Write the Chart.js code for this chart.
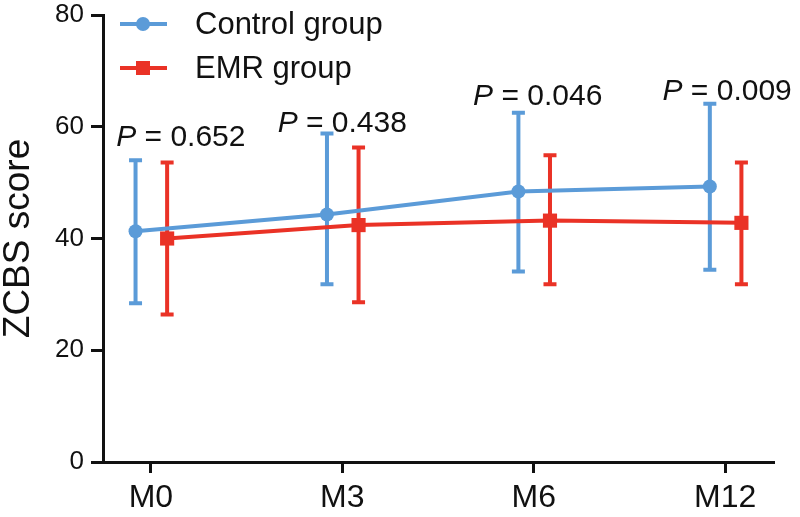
<!DOCTYPE html>
<html>
<head>
<meta charset="utf-8">
<script src="https://cdn.jsdelivr.net/npm/chart.js@4/dist/chart.umd.min.js"></script>
<style>
  html, body { margin: 0; padding: 0; background: #fff; }
  #wrap { width: 800px; height: 517px; position: relative; }
</style>
</head>
<body>
<div id="wrap"><canvas id="c" width="800" height="517"></canvas></div>
<script>
// ---- data ----
const categories = ['M0', 'M3', 'M6', 'M12'];
const seriesNames = ['Control group', 'EMR group'];
const controlMean  = [41.3, 44.3, 48.4, 49.3];
const controlUpper = [54.0, 58.8, 62.5, 64.1];
const controlLower = [28.4, 31.8, 34.1, 34.4];
const emrMean  = [40.0, 42.4, 43.2, 42.8];
const emrUpper = [53.6, 56.3, 54.9, 53.6];
const emrLower = [26.4, 28.6, 31.8, 31.8];
const pValues = ['0.652', '0.438', '0.046', '0.009'];
const yTicks = [0, 20, 40, 60, 80];

// ---- styles ----
const BLUE = '#5b9bd8';
const RED = '#ea3226';
const FONT = '"Liberation Sans", Arial, Helvetica, sans-serif';
const groupOffset = [-0.08, 0.085];
const pLabelShift = [{dx: 30, dy: -14}, {dx: 0, dy: -1}, {dx: 4, dy: -8}, {dx: 2, dy: -4}];

function pts(mean, off) { return mean.map((v, i) => ({x: i + off, y: v})); }

const errorBarPlugin = {
  id: 'errorBars',
  beforeDatasetsDraw(chart) {
    const {ctx, scales: {x, y}} = chart;
    const sets = [[controlLower, controlUpper], [emrLower, emrUpper]];
    chart.data.datasets.forEach((ds, di) => {
      const [lo, hi] = sets[di];
      ctx.save();
      ctx.strokeStyle = ds.borderColor;
      ctx.lineWidth = 4;
      ctx.lineCap = 'butt';
      ds.data.forEach((p, i) => {
        const px = x.getPixelForValue(p.x);
        const py1 = y.getPixelForValue(lo[i]);
        const py2 = y.getPixelForValue(hi[i]);
        ctx.beginPath();
        ctx.moveTo(px, py1); ctx.lineTo(px, py2);
        ctx.moveTo(px - 6.5, py1); ctx.lineTo(px + 6.5, py1);
        ctx.moveTo(px - 6.5, py2); ctx.lineTo(px + 6.5, py2);
        ctx.stroke();
      });
      ctx.restore();
    });
  }
};

const annotPlugin = {
  id: 'annot',
  afterDraw(chart) {
    const {ctx, scales: {x, y}} = chart;
    ctx.save();
    ctx.fillStyle = '#111';
    ctx.textBaseline = 'alphabetic';
    pValues.forEach((pv, i) => {
      const top = Math.max(controlUpper[i], emrUpper[i]);
      const cx = x.getPixelForValue(i) + pLabelShift[i].dx;
      const by = y.getPixelForValue(top) + pLabelShift[i].dy;
      ctx.font = 'italic 30px ' + FONT;
      const w1 = ctx.measureText('P').width;
      ctx.font = '30px ' + FONT;
      const rest = ' = ' + pv;
      const w2 = ctx.measureText(rest).width;
      const sx = cx - (w1 + w2) / 2;
      ctx.font = 'italic 30px ' + FONT;
      ctx.fillText('P', sx, by);
      ctx.font = '30px ' + FONT;
      ctx.fillText(rest, sx + w1, by);
    });
    // legend
    const rows = [24, 68];
    chart.data.datasets.forEach((ds, di) => {
      const yy = rows[di];
      ctx.strokeStyle = ds.borderColor;
      ctx.lineWidth = 4;
      ctx.beginPath(); ctx.moveTo(120, yy); ctx.lineTo(167, yy); ctx.stroke();
      ctx.fillStyle = ds.borderColor;
      if (di === 0) {
        ctx.beginPath(); ctx.arc(143, yy, 7, 0, Math.PI * 2); ctx.fill();
      } else {
        ctx.fillRect(143 - 7, yy - 7, 14, 14);
      }
      ctx.fillStyle = '#111';
      ctx.font = '31px ' + FONT;
      ctx.textBaseline = 'middle';
      ctx.fillText(seriesNames[di], 195, yy + 1);
    });
    ctx.restore();
  }
};

new Chart(document.getElementById('c'), {
  type: 'line',
  data: {
    datasets: [
      {
        label: seriesNames[0], data: pts(controlMean, groupOffset[0]),
        borderColor: BLUE, backgroundColor: BLUE, borderWidth: 4,
        pointStyle: 'circle', pointRadius: 7, pointBorderWidth: 0, tension: 0
      },
      {
        label: seriesNames[1], data: pts(emrMean, groupOffset[1]),
        borderColor: RED, backgroundColor: RED, borderWidth: 4,
        pointStyle: 'rect', pointRadius: 10, pointBorderWidth: 0, tension: 0
      }
    ]
  },
  options: {
    responsive: false,
    animation: false,
    devicePixelRatio: 1,
    layout: { padding: { left: 0, right: 27, top: 15, bottom: 0 } },
    plugins: { legend: { display: false }, tooltip: { enabled: false } },
    scales: {
      x: {
        type: 'linear', min: -0.25, max: 3.25,
        afterBuildTicks: s => { s.ticks = categories.map((c, i) => ({value: i})); },
        afterFit: s => { s.height = 55; s.paddingLeft = 0; s.paddingRight = 0; },
        ticks: {
          callback: v => categories[v],
          color: '#111', font: { family: FONT, size: 32 }, padding: 6, maxRotation: 0
        },
        grid: { drawOnChartArea: false, drawTicks: true, tickLength: 11, color: '#111', lineWidth: 3 },
        border: { display: true, color: '#111', width: 3 }
      },
      y: {
        min: 0, max: 80,
        afterBuildTicks: s => { s.ticks = yTicks.map(v => ({value: v})); },
        afterFit: s => { s.width = 103; s.paddingTop = 0; s.paddingBottom = 0; },
        ticks: { color: '#111', font: { family: FONT, size: 26 }, padding: 7 },
        grid: { drawOnChartArea: false, drawTicks: true, tickLength: 12, color: '#111', lineWidth: 3 },
        border: { display: true, color: '#111', width: 3 },
        title: {
          display: true, text: 'ZCBS score', color: '#111',
          font: { family: FONT, size: 37, lineHeight: 1 }, padding: 0
        }
      }
    }
  },
  plugins: [errorBarPlugin, annotPlugin]
});
</script>
</body>
</html>
